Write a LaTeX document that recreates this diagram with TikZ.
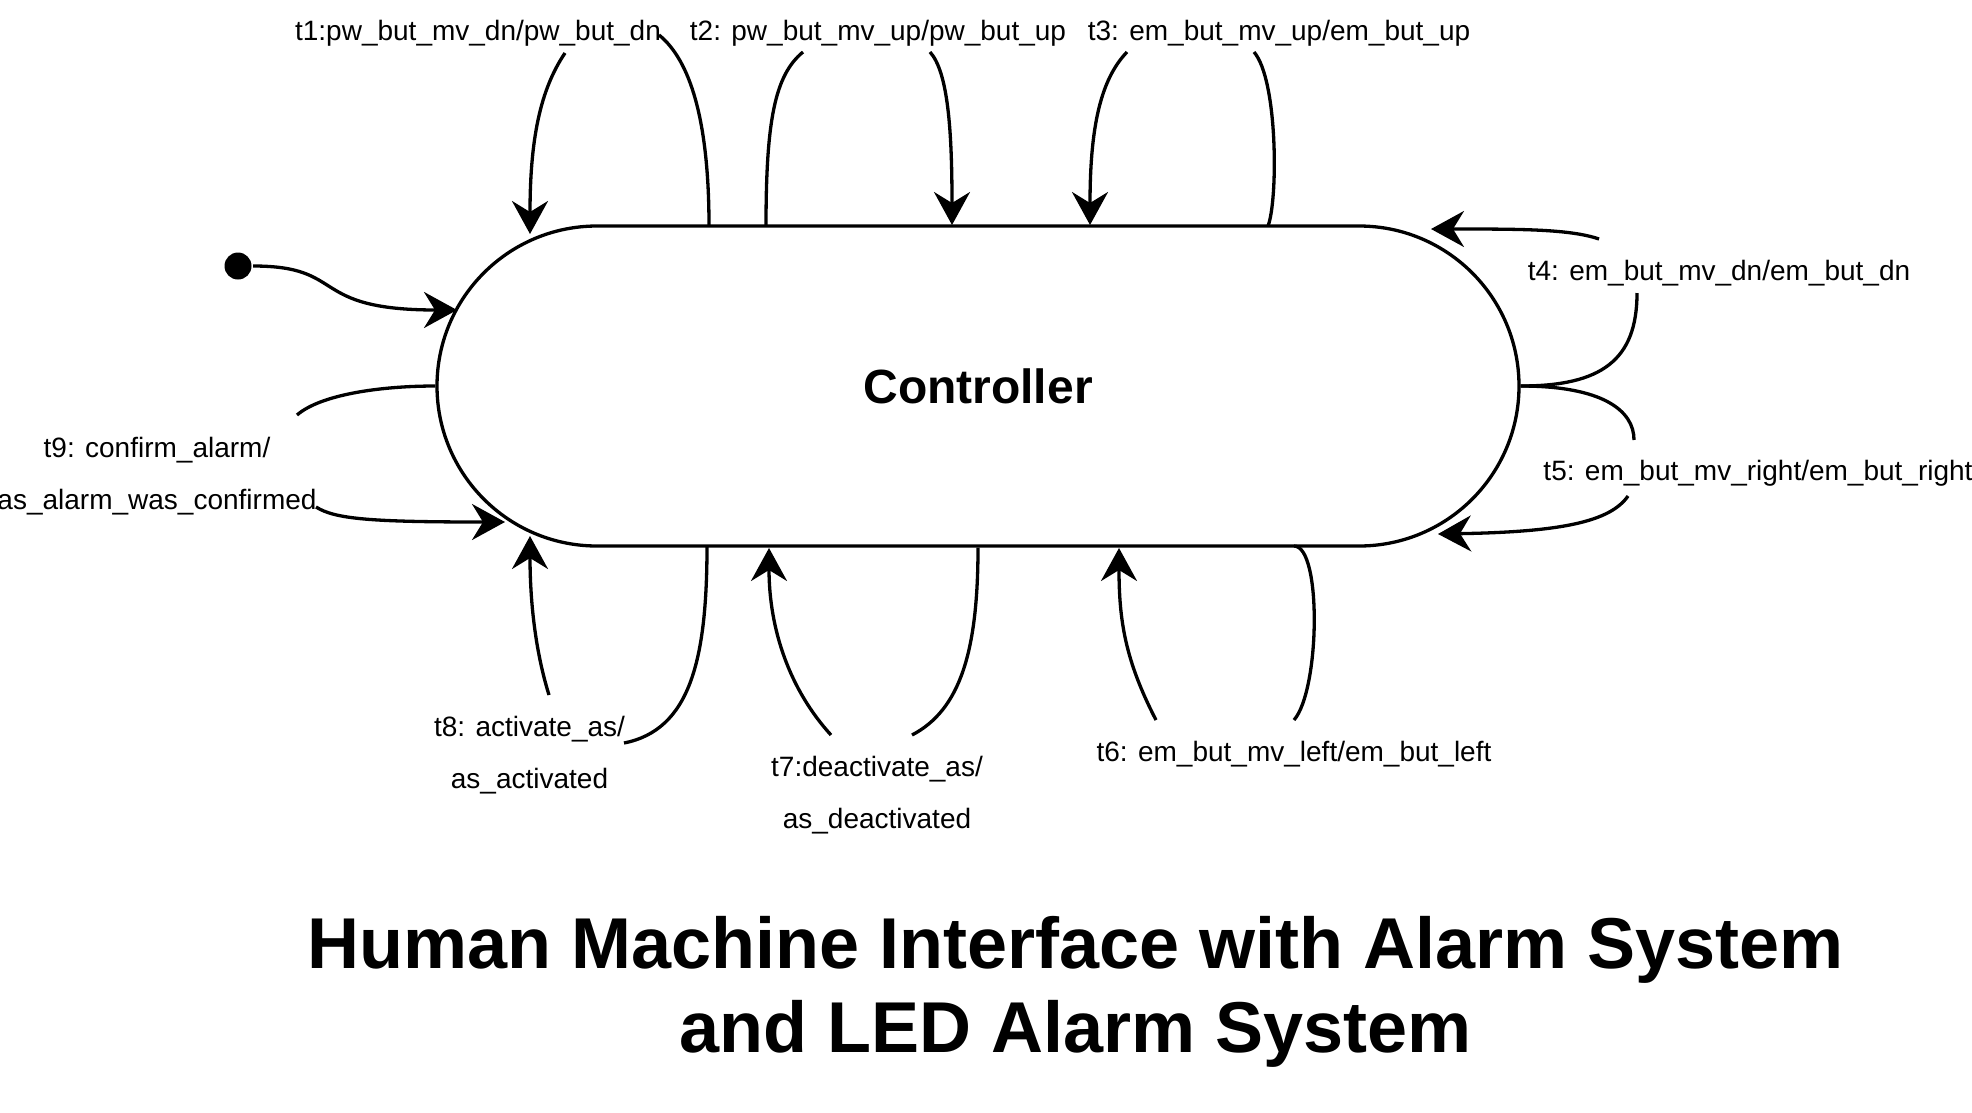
\documentclass[tikz,border=0pt]{standalone}
\usepackage{fontspec}
\setmainfont{Liberation Sans}
\usetikzlibrary{arrows.meta, calc}

\begin{document}
\begin{tikzpicture}[x=1pt, y=-1pt, line width=3.3pt,
  >={Stealth[length=33pt, width=36pt, inset=11pt]},
  font=\fontsize{28}{52}\selectfont,
  lbl/.style={inner sep=0pt, anchor=base, align=center},
  trans/.style={->}]
\useasboundingbox (0,0) rectangle (1972,1112);

% state and start point
\node[draw, rounded corners=160pt, minimum width=1082pt, minimum height=320pt,
      font=\fontsize{48}{58}\selectfont\bfseries] (ctrl) at (978,386) {Controller};
\node[circle, fill, inner sep=0pt, minimum size=27pt] (init) at (238,266) {};

% transition labels (base = last line)
\node[lbl] (t1) at (478,40) {t1:pw\_but\_mv\_dn/pw\_but\_dn};
\node[lbl] (t2) at (878,40) {t2: pw\_but\_mv\_up/pw\_but\_up};
\node[lbl] (t3) at (1279,40) {t3: em\_but\_mv\_up/em\_but\_up};
\node[lbl] (t4) at (1719,280) {t4: em\_but\_mv\_dn/em\_but\_dn};
\node[lbl] (t5) at (1758,480) {t5: em\_but\_mv\_right/em\_but\_right};
\node[lbl] (t6) at (1294,761) {t6: em\_but\_mv\_left/em\_but\_left};
\node[lbl] (t7) at (877,828) {t7:deactivate\_as/\\as\_deactivated};
\node[lbl] (t8) at (529.5,788) {t8: activate\_as/\\as\_activated};
\node[lbl] (t9) at (157,509) {t9: confirm\_alarm/\\as\_alarm\_was\_confirmed};

% initial transition
\draw[trans] (init) .. controls +(110,0) and +(-150,0) .. ($(ctrl)+(-521,-76)$);

% t1
\draw[trans] ($(t1.base)+(87,13)$) .. controls +(-25,37) and +(0,-94) .. ($(ctrl)+(-448,-152)$);
\draw ($(ctrl)+(-269,-160)$) .. controls +(0,-106) and +(31,25) .. ($(t1.base)+(181,-5)$);
% t2
\draw ($(ctrl)+(-212,-160)$) .. controls +(0,-106) and +(-28,23) .. ($(t2.base)+(-75,12)$);
\draw[trans] ($(t2.base)+(52,12)$) .. controls +(18,20) and +(0,-95) .. ($(ctrl)+(-26,-161)$);
% t3
\draw[trans] ($(t3.base)+(-152,12)$) .. controls +(-27,28) and +(0,-96) .. ($(ctrl)+(112,-161)$);
\draw ($(ctrl)+(290,-160)$) .. controls +(10,-26) and +(24,28) .. ($(t3.base)+(-25,12)$);
% t4
\draw[trans] ($(t4.base)+(-120,-41)$) .. controls +(-29,-10) and +(89,0) .. ($(ctrl)+(453,-157)$);
\draw (ctrl.east) .. controls +(81,0) and +(0,67) .. ($(t4.base)+(-82,13)$);
% t5
\draw (ctrl.east) .. controls +(81,0) and +(0,-30) .. ($(t5.base)+(-124,-40)$);
\draw[trans] ($(t5.base)+(-130,16)$) .. controls +(-18,26) and +(122,-2) .. ($(ctrl)+(460,148)$);
% t6
\draw[trans] ($(t6.base)+(-138,-41)$) .. controls +(-31,-60) and +(0,72) .. ($(ctrl)+(141,162)$);
\draw ($(ctrl)+(316,160)$) .. controls +(28,0) and +(26,-30) .. ($(t6.base)+(0,-41)$);
% t7
\draw[trans] ($(t7.base)+(-46,-93)$) .. controls +(-41,-45) and +(0,82) .. ($(ctrl)+(-209,162)$);
\draw (ctrl.south) .. controls +(0,104) and +(48,-25) .. ($(t7.base)+(35,-93)$);
% t8
\draw[trans] ($(t8.base)+(19.5,-93)$) .. controls +(-14,-45) and +(0,64) .. ($(ctrl)+(-448,150)$);
\draw ($(ctrl)+(-271,160)$) .. controls +(0,114) and +(66,-13) .. ($(t8.base)+(94.5,-45)$);
% t9
\draw (ctrl.west) .. controls +(-57,0) and +(23,-20) .. ($(t9.base)+(140,-94)$);
\draw[trans] ($(t9.base)+(159,-2)$) .. controls +(19,12) and +(-135,0) .. ($(ctrl)+(-473,136)$);

% title
\node[font=\fontsize{72}{84.5}\selectfont\bfseries, align=center, anchor=base] (title)
  at (1075.5,1052.5) {Human Machine Interface with Alarm System\\and LED Alarm System};
\end{tikzpicture}
\end{document}
